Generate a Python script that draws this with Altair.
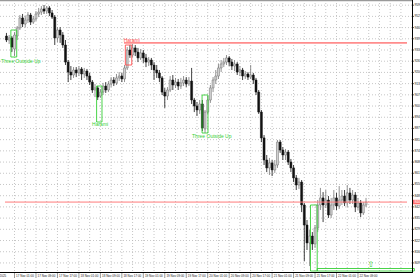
import altair as alt
import pandas as pd

# ---------------- data (BTCUSD, H1) ----------------
opens = [94110, 93880, 94000, 93360, 94110, 94580, 95160, 94810, 95040, 95330,
         94920, 95100, 95390, 95500, 95680, 95560, 95740, 95450, 95210, 94000,
         94460, 94170, 93590, 92600, 92020, 91850, 92140, 91970, 92200, 91910,
         92080, 91790, 91440, 90980, 91100, 90630, 90860, 91210, 90980, 91330,
         91560, 91390, 91680, 91790, 91620, 92260, 93300, 93010, 93420, 93180,
         92840, 93130, 92840, 92600, 92720, 92430, 92140, 91970, 91680, 90860,
         90630, 90980, 91560, 91270, 91440, 91210, 91390, 91560, 91330, 91500,
         90400, 90050, 89820, 90170, 88720, 89700, 90400, 91100, 91560, 91790,
         92260, 92490, 92600, 92840, 92600, 92370, 92490, 92020, 92140, 91790,
         91910, 91730, 91850, 91560, 90860, 89700, 88200, 86920, 86460, 86750,
         86340, 86630, 87960, 87500, 87210, 87380, 86800, 86460, 85880, 85470,
         85640, 84310, 83150, 82110, 82510, 82050, 82980, 84310, 84720, 84310,
         84600, 83730, 84310, 84720, 84250, 84600, 84830, 84430, 85010, 84600,
         84890, 84190, 84430, 83850, 84310]
highs = [94290, 94170, 94110, 94340, 94690, 95330, 95390, 95270, 95500, 95450,
         95270, 95560, 95740, 95850, 95910, 95850, 95850, 95620, 95330, 94630,
         94630, 94340, 93880, 92720, 92370, 92310, 92310, 92370, 92310, 92260,
         92200, 91970, 91560, 91330, 91210, 91040, 91390, 91440, 91500, 91730,
         91730, 91910, 92020, 91970, 92430, 93470, 93590, 93650, 93590, 93420,
         93360, 93300, 93070, 92890, 92840, 92600, 92430, 92140, 91790, 91100,
         91150, 91790, 91850, 91680, 91620, 91680, 91790, 91730, 91730, 92260,
         90520, 90280, 90400, 90400, 89820, 90630, 91270, 91730, 92140, 92490,
         92720, 92840, 93010, 92950, 92780, 92720, 92600, 92370, 92260, 92080,
         92020, 92430, 91970, 91680, 90980, 89820, 88370, 87210, 87040, 86920,
         86920, 88080, 88080, 87670, 87560, 87500, 86980, 86630, 86050, 85880,
         85760, 84430, 83440, 82860, 82740, 83150, 84600, 85300, 85060, 85180,
         84830, 84720, 85180, 85010, 85410, 85180, 85180, 85470, 85300, 85180,
         85060, 84720, 84600, 84480, 84720]
lows = [93760, 93650, 93180, 92950, 93880, 94460, 94630, 94630, 94870, 94750,
        94810, 94980, 95210, 95330, 95390, 95390, 95270, 95100, 93590, 93760,
        93710, 93420, 92430, 91440, 91560, 91680, 91730, 91790, 91560, 91680,
        91560, 91270, 90810, 90570, 90400, 90520, 90690, 90810, 90860, 91150,
        91210, 91270, 91500, 91440, 91440, 92140, 92840, 92890, 92950, 92600,
        92720, 92550, 92310, 92370, 92140, 91560, 91680, 91440, 90690, 89940,
        90400, 90860, 90980, 91100, 90980, 91040, 91210, 91150, 91210, 90170,
        89700, 89470, 89590, 88600, 88490, 89590, 90230, 90860, 91330, 91620,
        92020, 92310, 92430, 92370, 92140, 92080, 91850, 91790, 91560, 91620,
        91560, 91620, 91330, 90690, 89590, 87960, 86630, 86220, 86050, 85990,
        86170, 86460, 87330, 86920, 86920, 86630, 86220, 85640, 85180, 85240,
        83900, 81060, 81700, 80770, 81700, 81820, 82740, 84020, 83320, 84140,
        83560, 83560, 84020, 84020, 84080, 84310, 84250, 84190, 84370, 84370,
        83900, 84020, 83610, 83730, 84190]
closes = [93880, 94000, 93470, 94170, 94580, 95160, 94810, 95040, 95330, 94920,
          95100, 95390, 95500, 95680, 95560, 95740, 95450, 95210, 94000, 94460,
          94170, 93590, 92600, 92020, 91850, 92140, 91970, 92200, 91910, 92080,
          91790, 91440, 90980, 91100, 90570, 90860, 91210, 90980, 91330, 91560,
          91390, 91680, 91790, 91620, 92260, 93300, 93010, 93420, 93180, 92840,
          93130, 92840, 92600, 92720, 92430, 92140, 91970, 91680, 90860, 90630,
          90980, 91560, 91270, 91440, 91210, 91390, 91560, 91330, 91500, 90400,
          90050, 89820, 90170, 88780, 89700, 90400, 91100, 91560, 91790, 92260,
          92490, 92600, 92840, 92600, 92370, 92490, 92020, 92140, 91790, 91910,
          91730, 91850, 91560, 90860, 89700, 88200, 86920, 86460, 86750, 86340,
          86630, 87960, 87500, 87210, 87380, 86800, 86460, 85880, 85470, 85640,
          84310, 83150, 82110, 82510, 82050, 82980, 84310, 84720, 84310, 84600,
          83730, 84310, 84720, 84250, 84600, 84830, 84430, 85010, 84600, 84890,
          84190, 84430, 83850, 84310, 84480]

time_idx = [-7.0, 3, 11, 19, 27, 35, 43, 51, 59, 67, 75, 83, 91, 99, 107, 115, 123, 131]
time_text = ["16 Nov 2025", "17 Nov 01:00", "17 Nov 09:00", "17 Nov 17:00",
             "18 Nov 01:00", "18 Nov 09:00", "18 Nov 17:00", "19 Nov 01:00",
             "19 Nov 09:00", "19 Nov 17:00", "20 Nov 01:00", "20 Nov 09:00",
             "20 Nov 17:00", "21 Nov 01:00", "21 Nov 09:00", "21 Nov 17:00",
             "22 Nov 01:00", "22 Nov 09:00"]
price_ticks = [95900, 95250, 94600, 93950, 93300, 92650, 92000, 91350, 90700,
               90050, 89400, 88750, 88100, 87450, 86800, 86150, 85500, 84850,
               84200, 83550, 82900, 82250, 81600, 80950]
grid_idx = list(range(3, 150, 4))

# pattern annotations
box_x1 = [1.64, 72.9, 33.6]
box_x2 = [3.82, 75.1, 35.6]
box_lo = [92894, 88486, 89124]
box_hi = [94460, 90690, 91212]
pat_text = ["Three Outside Up", "Three Outside Up", "Harami"]
pat_tx = [-2.0, 69.16, 31.9]
pat_ty = [92662, 88312, 88990]

red_box_x = [44.3, 46.7]
red_box_p = [92430, 93590]
red_text = "Harami"
red_text_pos = [43.7, 93880]
red_level = 93710
red_level_start = 43.8

big_box_x = [113.3, 115.8]
big_box_p = [80482, 84310]
flat_box_x = [115.8, 152.0]
flat_box_p = [80482, 80627]
arrow_pos = [135.8, 80830]

bid_price = 84480

X_DOMAIN = [-0.545, 149.27]
Y_DOMAIN = [80424, 96200]
W, H = 412, 272
FONT = "Liberation Sans"
GREEN = "#35cf35"
RED = "#ff4c4c"
GRID = "#b8b8b8"

# ---------------- frames ----------------
n = len(opens)
candles = pd.DataFrame({"i": list(range(n)), "open": opens, "high": highs,
                        "low": lows, "close": closes})
candles["dir"] = ["bull" if c >= o else "bear" for o, c in zip(opens, closes)]

xs = alt.Scale(domain=X_DOMAIN, nice=False, zero=False)
ys = alt.Scale(domain=Y_DOMAIN, nice=False, zero=False)


def X(f):
    return alt.X(f, scale=xs, axis=None)


def Y(f):
    return alt.Y(f, scale=ys, axis=None)


ticks_df = pd.DataFrame({"p": price_ticks})
vgrid_df = pd.DataFrame({"i": grid_idx})

hgrid = alt.Chart(ticks_df).mark_rule(color=GRID, strokeWidth=0.8, strokeDash=[1, 2]).encode(
    y=Y("p:Q"), x=alt.value(0), x2=alt.value(W))
vgrid = alt.Chart(vgrid_df).mark_rule(color=GRID, strokeWidth=0.8, strokeDash=[1, 2]).encode(
    x=X("i:Q"), y=alt.value(0), y2=alt.value(H))

base = alt.Chart(candles)
wicks = base.mark_rule(strokeWidth=0.8).encode(
    x=X("i:Q"), y=Y("low:Q"), y2="high:Q",
    color=alt.Color("dir:N", scale=alt.Scale(domain=["bull", "bear"], range=["#777777", "#111111"]),
                    legend=None),
)
bodies = base.mark_bar(size=2, strokeWidth=0.5).encode(
    x=X("i:Q"), y=Y("open:Q"), y2="close:Q",
    fill=alt.Fill("dir:N", scale=alt.Scale(domain=["bull", "bear"], range=["#d2d2d2", "#111111"]),
                  legend=None),
    stroke=alt.Stroke("dir:N", scale=alt.Scale(domain=["bull", "bear"], range=["#6a6a6a", "#111111"]),
                      legend=None),
)

boxes_df = pd.DataFrame({"x1": box_x1, "x2": box_x2, "lo": box_lo, "hi": box_hi})
boxes = alt.Chart(boxes_df).mark_rect(fill="#ffffff", fillOpacity=0, stroke=GREEN, strokeWidth=0.9).encode(
    x=X("x1:Q"), x2="x2:Q", y=Y("lo:Q"), y2="hi:Q")

ptext_df = pd.DataFrame({"t": pat_text, "x": pat_tx, "y": pat_ty})
ptext = alt.Chart(ptext_df).mark_text(align="left", baseline="middle", fontSize=5, font=FONT,
                                      color=GREEN).encode(x=X("x:Q"), y=Y("y:Q"), text="t:N")

redbox = alt.Chart(pd.DataFrame({"x1": [red_box_x[0]], "x2": [red_box_x[1]],
                                 "lo": [red_box_p[0]], "hi": [red_box_p[1]]})).mark_rect(
    fill="#ffffff", fillOpacity=0, stroke=RED, strokeWidth=0.9).encode(
    x=X("x1:Q"), x2="x2:Q", y=Y("lo:Q"), y2="hi:Q")

redtext = alt.Chart(pd.DataFrame({"t": [red_text], "x": [red_text_pos[0]], "y": [red_text_pos[1]]})).mark_text(
    align="left", baseline="middle", fontSize=5, font=FONT, color=RED).encode(
    x=X("x:Q"), y=Y("y:Q"), text="t:N")

redline = alt.Chart(pd.DataFrame({"x1": [red_level_start], "x2": [X_DOMAIN[1]], "p": [red_level]})).mark_rule(
    color="#ff8c8c", strokeWidth=1.8).encode(x=X("x1:Q"), x2="x2:Q", y=Y("p:Q"))

bidline = alt.Chart(pd.DataFrame({"x1": [X_DOMAIN[0]], "x2": [X_DOMAIN[1]], "p": [bid_price]})).mark_rule(
    color="#ff7a7a", strokeWidth=1).encode(x=X("x1:Q"), x2="x2:Q", y=Y("p:Q"))

bigbox = alt.Chart(pd.DataFrame({"x1": [big_box_x[0], flat_box_x[0]], "x2": [big_box_x[1], flat_box_x[1]],
                                 "lo": [big_box_p[0], flat_box_p[0]], "hi": [big_box_p[1], flat_box_p[1]]})).mark_rect(
    fill="#ffffff", fillOpacity=0, stroke=GREEN, strokeWidth=0.9).encode(
    x=X("x1:Q"), x2="x2:Q", y=Y("lo:Q"), y2="hi:Q")

arrow = alt.Chart(pd.DataFrame({"x": [arrow_pos[0]], "y": [arrow_pos[1]], "t": ["\u21e7"]})).mark_text(
    fontSize=8, font="DejaVu Sans", color=GREEN, baseline="middle", align="center").encode(
    x=X("x:Q"), y=Y("y:Q"), text="t:N")

# time axis
tdf = pd.DataFrame({"i": time_idx, "t": time_text})
tlabels = alt.Chart(tdf).mark_text(align="left", baseline="middle", fontSize=3, font=FONT,
                                   color="#222", dx=1.6).encode(x=X("i:Q"), y=alt.value(275.5), text="t:N")
tticks = alt.Chart(tdf).mark_rule(color="#333", strokeWidth=0.5).encode(
    x=X("i:Q"), y=alt.value(H), y2=alt.value(278))
bottomline = alt.Chart(pd.DataFrame({"a": [0]})).mark_rule(color="#000", strokeWidth=1).encode(
    x=alt.value(0), x2=alt.value(W + 1), y=alt.value(H + 0.5))

# price axis
rightline = alt.Chart(pd.DataFrame({"a": [0]})).mark_rule(color="#000", strokeWidth=1).encode(
    x=alt.value(W + 0.5), y=alt.value(0), y2=alt.value(H + 1))
pticks = alt.Chart(ticks_df).mark_rule(color="#000", strokeWidth=0.6).encode(
    y=Y("p:Q"), x=alt.value(W), x2=alt.value(W + 2))
plabels = alt.Chart(ticks_df).mark_text(align="left", baseline="middle", fontSize=3.3, font=FONT,
                                        color="#222").encode(
    y=Y("p:Q"), x=alt.value(W + 2.4), text=alt.Text("p:Q", format=".2f"))

topline = alt.Chart(pd.DataFrame({"a": [0]})).mark_rule(color="#9a9a9a", strokeWidth=1.2).encode(
    x=alt.value(0), x2=alt.value(W), y=alt.value(0.6))

tag = alt.Chart(pd.DataFrame({"p": [bid_price]})).mark_tick(
    orient="horizontal", color="#ff3030", thickness=4.5, size=16).encode(
    x=alt.value(W + 9), y=Y("p:Q"))
tagtext = alt.Chart(pd.DataFrame({"p": [bid_price], "t": [f"{bid_price:.2f}"]})).mark_text(
    align="left", baseline="middle", fontSize=3.3, font=FONT, color="#ffffff").encode(
    x=alt.value(W + 2.4), y=Y("p:Q"), text="t:N")

chart = alt.layer(
    hgrid, vgrid, wicks, bodies, bidline, redline, boxes, ptext, redbox, redtext, bigbox, arrow,
    tlabels, tticks, bottomline, rightline, pticks, plabels, topline, tag, tagtext
).properties(
    width=W, height=H,
    autosize=alt.AutoSizeParams(type="none"),
    padding={"left": 0, "top": 0, "right": 420 - W, "bottom": 280 - H},
    background="#ffffff",
).configure_view(stroke=None)

chart.save("out.html", embed_options={"renderer": "svg", "actions": False})
